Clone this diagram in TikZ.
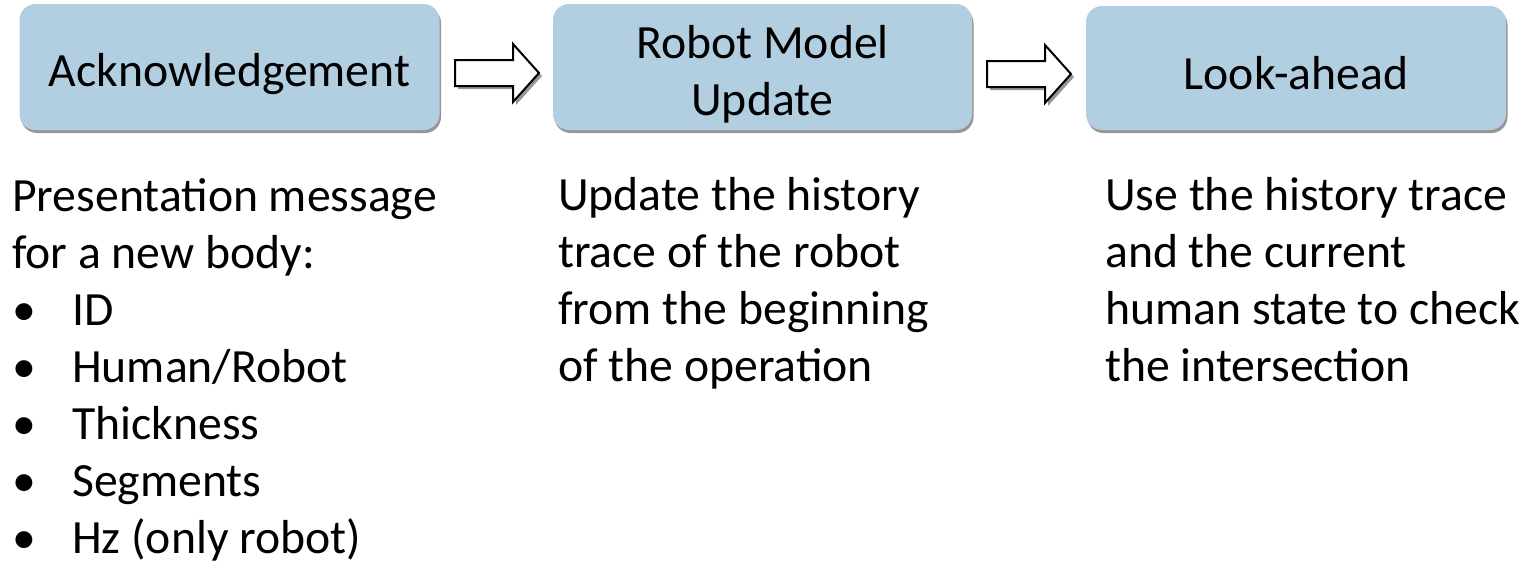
\documentclass[tikz,border=0pt]{standalone}
\usepackage{fontspec}
\setmainfont{Carlito}
\usetikzlibrary{shadows}
\definecolor{stagefill}{RGB}{178,207,225}
\definecolor{shadowgray}{RGB}{150,150,150}
\tikzset{
  stagebox/.style={fill=stagefill, rounded corners=16pt, inner sep=0pt,
    minimum width=420pt, minimum height=126pt,
    drop shadow={shadow xshift=1.5pt, shadow yshift=-3pt, fill=shadowgray, opacity=1}},
  stagetitle/.style={anchor=base, inner sep=0pt, align=center},
  notes/.style={anchor=base west, inner sep=0pt, align=left},
  blockarrow/.style={draw=black, line width=2pt, fill=white, line join=miter},
  arrowshadow/.style={fill=shadowgray}
}
% hollow block arrow: shaft from the start point, head ending at the tip
\newcommand{\hollowarrow}[1]{%
  \begin{scope}[shift={(#1)}]
    \fill[arrowshadow] (3,16) -- (61,16) -- (61,32) -- (87,3) -- (61,-26) -- (61,-10) -- (3,-10) -- cycle;
    \draw[blockarrow] (0,13) -- (58,13) -- (58,29) -- (84,0) -- (58,-29) -- (58,-13) -- (0,-13) -- cycle;
  \end{scope}}
\newcommand{\bul}{\makebox[60pt][l]{•}}
\begin{document}
\begin{tikzpicture}[x=1pt, y=-1pt, font=\fontsize{47.7}{57}\selectfont]
\useasboundingbox (0,0) rectangle (1524,562);

% stage boxes
\node[stagebox] (ack) at (229.5,67) {};
\node[stagebox, minimum width=419pt] (rmu) at (762.5,67) {};
\node[stagebox, minimum height=124pt] (look) at (1296,68) {};

% stage titles (base anchor sits on the last line)
\node[stagetitle] (acktitle) at (ack.center |- 0,86) {Acknowledgement};
\node[stagetitle] (rmutitle) at (rmu.center |- 0,115) {Robot Model\\Update};
\node[stagetitle] (looktitle) at (look.center |- 0,89) {Look-ahead};

% arrows between stages
\coordinate (a1) at (455,73);
\coordinate (a2) at (987,74);
\hollowarrow{a1}
\hollowarrow{a2}

% descriptions under each stage (base anchor on the last line)
\node[notes] (ackdesc) at (12,553) {Presentation message\\for a new body:\\
  \bul ID\\
  \bul Human/Robot\\
  \bul Thickness\\
  \bul Segments\\
  \bul Hz (only robot)};
\node[notes] (rmudesc) at (558,381) {Update the history\\trace of the robot\\from the beginning\\of the operation};
\node[notes] (lookdesc) at (1105,381) {Use the history trace\\and the current\\human state to check\\the intersection};
\end{tikzpicture}
\end{document}
